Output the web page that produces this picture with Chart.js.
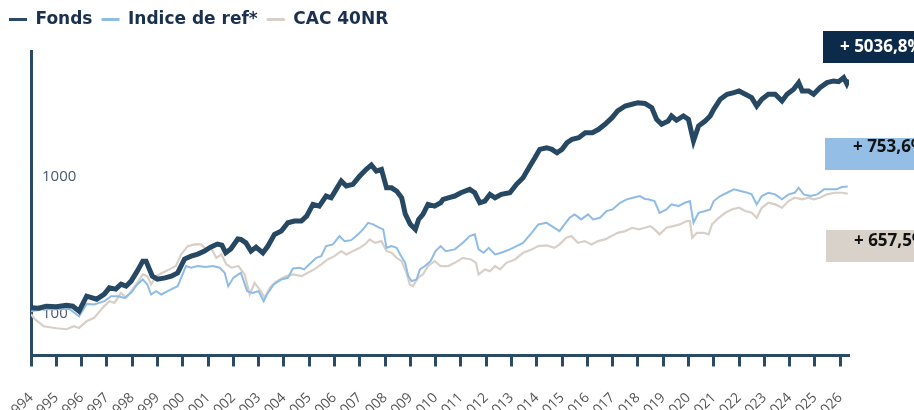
<!DOCTYPE html>
<html>
<head>
<meta charset="utf-8">
<script src="https://cdn.jsdelivr.net/npm/chart.js@4.4.1/dist/chart.umd.min.js"></script>
<style>
  html, body { margin: 0; padding: 0; background: #fff; overflow: hidden; }
  #wrap { width: 914px; height: 410px; }
</style>
</head>
<body>
<div id="wrap"><canvas id="perf" width="914" height="410"></canvas></div>
<script>
// colours
const navy = "#264862";
const axisColor = "#2b4a66";
const lightBlue = "#8fbce6";
const beige = "#d8d0c8";

// series labels
const seriesNames = ["Fonds", "Indice de ref*", "CAC 40NR"];
const endLabels = ["+ 5036,8%", "+ 753,6%", "+ 657,5%"];
const yTickLabels = [100, 1000];

// ! Fonds (base ~100, log scale)
const fondsDates = [
  1994.0, 1994.3, 1994.6, 1995.0, 1995.4, 1995.65, 1995.9, 1996.2, 1996.6, 1996.9,
  1997.1, 1997.35, 1997.56, 1997.76, 1997.96, 1998.2, 1998.42, 1998.55, 1998.8, 1999.0,
  1999.3, 1999.55, 1999.8, 2000.07, 2000.33, 2000.6, 2000.86, 2001.1, 2001.37, 2001.55,
  2001.7, 2001.9, 2002.18, 2002.3, 2002.5, 2002.7, 2002.9, 2003.17, 2003.37, 2003.63,
  2003.9, 2004.16, 2004.42, 2004.69, 2004.9, 2005.15, 2005.4, 2005.67, 2005.87, 2006.07,
  2006.27, 2006.47, 2006.73, 2007.0, 2007.26, 2007.46, 2007.66, 2007.86, 2008.06, 2008.26,
  2008.46, 2008.66, 2008.8, 2009.0, 2009.2, 2009.33, 2009.5, 2009.7, 2009.96, 2010.2,
  2010.3, 2010.5, 2010.76, 2011.0, 2011.35, 2011.55, 2011.75, 2011.95, 2012.15, 2012.35,
  2012.6, 2012.94, 2013.2, 2013.46, 2013.73, 2013.93, 2014.12, 2014.39, 2014.6, 2014.8,
  2015.0, 2015.2, 2015.4, 2015.66, 2015.92, 2016.2, 2016.45, 2016.7, 2016.98, 2017.2,
  2017.5, 2017.77, 2018.0, 2018.28, 2018.55, 2018.74, 2018.94, 2019.2, 2019.33, 2019.53,
  2019.8, 2020.0, 2020.2, 2020.4, 2020.66, 2020.86, 2021.0, 2021.26, 2021.53, 2021.8,
  2022.0, 2022.25, 2022.5, 2022.7, 2022.9, 2023.16, 2023.43, 2023.7, 2023.9, 2024.16,
  2024.36, 2024.5, 2024.75, 2024.95, 2025.2, 2025.48, 2025.74, 2025.94, 2026.14, 2026.26,
  2026.33
];
const fondsValues = [
  111.5, 110.6, 114.4, 113.4, 116.3, 114.4, 105.2, 135.3, 128.7, 140.0,
  155.6, 152.3, 165.7, 160.1, 174.2, 206.0, 243.7, 243.7, 189.4, 180.2,
  184.1, 189.4, 200.2, 252.3, 265.1, 274.4, 288.3, 308.4, 324.7, 319.2,
  280.3, 298.5, 353.2, 351, 331.4, 288.3, 308.4, 280.3, 313.7, 381.8,
  403.5, 463.8, 477.4, 477.4, 519.2, 631.8, 614.2, 726.6, 706.2, 813.4,
  935, 860, 884.5, 1017, 1138, 1223, 1106, 1138, 835, 835,
  790, 706, 538, 452, 415, 491, 534, 632, 614, 649,
  688, 706, 727, 768, 813, 768, 649, 668, 748, 706,
  748, 768, 885, 988, 1203, 1383, 1593, 1636, 1593, 1504,
  1593, 1780, 1885, 1936, 2106, 2106, 2229, 2425, 2709, 3033,
  3298, 3394, 3486, 3439, 3205, 2637, 2425, 2563, 2788, 2594,
  2788, 2637, 1832, 2357, 2563, 2788, 3121, 3692, 4015, 4124,
  4243, 4015, 3792, 3298, 3692, 4015, 4015, 3587, 4015, 4366,
  4879, 4243, 4243, 4015, 4485, 4879, 5020, 4960, 5306, 4800,
  5137
];

// ! Indice de ref*
const indiceDates = [
  1994.0, 1994.5, 1995.0, 1995.5, 1995.9, 1996.2, 1996.5, 1996.9, 1997.17, 1997.43,
  1997.7, 1997.96, 1998.2, 1998.42, 1998.6, 1998.75, 1998.95, 1999.15, 1999.4, 1999.8,
  2000.13, 2000.33, 2000.6, 2000.9, 2001.2, 2001.46, 2001.66, 2001.8, 2002.0, 2002.2,
  2002.3, 2002.55, 2002.75, 2003.0, 2003.2, 2003.33, 2003.6, 2003.9, 2004.16, 2004.36,
  2004.63, 2004.8, 2005.0, 2005.28, 2005.48, 2005.67, 2005.94, 2006.2, 2006.4, 2006.66,
  2006.93, 2007.13, 2007.33, 2007.53, 2007.73, 2007.93, 2008.06, 2008.26, 2008.46, 2008.6,
  2008.8, 2008.92, 2009.05, 2009.25, 2009.38, 2009.58, 2009.8, 2010.0, 2010.2, 2010.4,
  2010.76, 2011.08, 2011.35, 2011.55, 2011.7, 2011.9, 2012.1, 2012.35, 2012.6, 2012.94,
  2013.2, 2013.46, 2013.8, 2014.06, 2014.39, 2014.7, 2014.9, 2015.1, 2015.3, 2015.5,
  2015.76, 2016.03, 2016.23, 2016.5, 2016.76, 2017.0, 2017.3, 2017.56, 2017.8, 2018.08,
  2018.28, 2018.4, 2018.66, 2018.86, 2019.13, 2019.33, 2019.6, 2019.86, 2020.06, 2020.2,
  2020.4, 2020.66, 2020.86, 2021.0, 2021.26, 2021.53, 2021.8, 2022.06, 2022.33, 2022.5,
  2022.7, 2022.9, 2023.16, 2023.43, 2023.7, 2023.96, 2024.2, 2024.36, 2024.56, 2024.82,
  2025.1, 2025.36, 2025.6, 2025.86, 2026.06, 2026.3
];
const indiceValues = [
  105.2, 108.8, 108.8, 109.7, 96.7, 118.9, 117.7, 124.4, 135.3, 135.3,
  131.5, 143.0, 164.6, 179.3, 164.6, 139.2, 147.2, 139.2, 147.2, 160.1,
  224.5, 218.3, 224.5, 220.8, 224.5, 218.3, 200.2, 160.1, 184.1, 194.9,
  200.2, 147.2, 143.0, 147.2, 124.4, 139.2, 164.6, 179.3, 184.1, 215.7,
  218.3, 212.2, 230.5, 257.6, 265.1, 313.7, 322.7, 371.0, 341.0, 346.5,
  381.8, 415.2, 463.8, 451.6, 431.5, 415.2, 304.8, 313.7, 304.8, 272.8,
  236.9, 189.4, 174.2, 179.3, 212.2, 224.5, 243.7, 288.3, 313.7, 288.3,
  296.8, 331.4, 371.0, 381.8, 296.8, 280.3, 304.8, 272.8, 280.3, 296.8,
  313.7, 331.4, 392.1, 451.6, 463.8, 426.5, 403.5, 451.6, 504.6, 534.1,
  491.2, 534.1, 491.2, 504.6, 564.9, 581.1, 649.4, 687.6, 706.2, 726.6,
  692.3, 687.6, 668.2, 548.9, 581.1, 631.8, 614.2, 649.4, 668.2, 463.8,
  548.9, 564.9, 581.1, 668.2, 726.6, 768.1, 813.4, 790, 768.1, 747.6,
  631.8, 726.6, 768.1, 747.6, 687.6, 747.6, 768.1, 835.4, 747.6, 726.6,
  747.6, 813.4, 813.4, 813.4, 845.5, 853.6
];

// ! CAC 40NR
const cacDates = [
  1994.0, 1994.15, 1994.5, 1995.0, 1995.4, 1995.7, 1995.9, 1996.2, 1996.5, 1996.83,
  1997.1, 1997.3, 1997.56, 1997.76, 1997.96, 1998.2, 1998.42, 1998.6, 1998.75, 1998.95,
  1999.2, 1999.47, 1999.73, 1999.94, 2000.2, 2000.46, 2000.73, 2000.93, 2001.13, 2001.33,
  2001.53, 2001.73, 2001.93, 2002.2, 2002.45, 2002.65, 2002.84, 2003.04, 2003.24, 2003.44,
  2003.63, 2003.83, 2004.1, 2004.36, 2004.7, 2004.95, 2005.2, 2005.48, 2005.73, 2006.0,
  2006.27, 2006.47, 2006.73, 2007.0, 2007.2, 2007.4, 2007.6, 2007.86, 2008.06, 2008.26,
  2008.46, 2008.66, 2008.85, 2008.98, 2009.11, 2009.3, 2009.5, 2009.7, 2009.96, 2010.2,
  2010.5, 2010.76, 2011.08, 2011.4, 2011.6, 2011.7, 2011.95, 2012.15, 2012.35, 2012.55,
  2012.8, 2013.14, 2013.46, 2013.8, 2014.06, 2014.39, 2014.7, 2014.9, 2015.17, 2015.37,
  2015.63, 2015.9, 2016.16, 2016.43, 2016.7, 2016.96, 2017.2, 2017.5, 2017.77, 2018.04,
  2018.28, 2018.5, 2018.66, 2018.86, 2019.13, 2019.4, 2019.66, 2019.93, 2020.06, 2020.15,
  2020.33, 2020.6, 2020.8, 2020.93, 2021.2, 2021.46, 2021.73, 2022.0, 2022.25, 2022.5,
  2022.7, 2022.9, 2023.16, 2023.43, 2023.7, 2023.96, 2024.2, 2024.5, 2024.75, 2024.95,
  2025.2, 2025.48, 2025.8, 2026.06, 2026.3
];
const cacValues = [
  100, 91.9, 81.7, 79.0, 77.7, 81.7, 79.4, 88.9, 94.0, 111.2,
  124.4, 120.9, 143.0, 131.5, 147.2, 169.2, 194.9, 189.4, 164.6, 189.4,
  200.2, 212.2, 224.5, 272.8, 313.7, 322.7, 322.7, 296.8, 301.7, 257.6,
  272.8, 230.5, 218.3, 224.5, 194.9, 139.2, 169.2, 151.5, 131.5, 155.6,
  169.2, 179.3, 189.4, 194.9, 189.4, 200.2, 212.2, 230.5, 250.8, 265.1,
  288.3, 272.8, 288.3, 304.8, 322.7, 351, 331.4, 341.0, 288.3, 280.3,
  257.6, 243.7, 200.2, 164.6, 160.1, 184.1, 194.9, 224.5, 243.7, 224.5,
  224.5, 236.9, 257.6, 250.8, 236.9, 194.9, 212.2, 206.0, 224.5, 212.2,
  236.9, 250.8, 280.3, 296.8, 313.7, 317.3, 304.8, 322.7, 360.5, 371.0,
  331.4, 341.0, 322.7, 341.0, 351, 371.0, 392.1, 403.5, 426.5, 415.2,
  426.5, 438.8, 415.2, 381.8, 426.5, 438.8, 451.6, 477.4, 477.4, 360.5,
  392.1, 392.1, 381.8, 451.6, 504.6, 548.9, 581.1, 597, 564.9, 548.9,
  504.6, 597, 649.4, 631.8, 597, 668.2, 706.2, 687.6, 706.2, 687.6,
  706.2, 747.6, 768.1, 768.1, 757.5
];

function toPoints(dates, values) {
  return dates.map((d, i) => ({ x: d, y: values[i] }));
}

// leave a gap under the legend
const legendGap = {
  id: "legendGap",
  afterInit(chart) {
    const legend = chart.legend;
    const fit = legend.fit;
    legend.fit = function () {
      fit.call(this);
      this.height += 13;
    };
  },
};

// end-of-period boxes on the right
const endBoxes = {
  id: "endBoxes",
  afterDraw(chart) {
    const ctx = chart.ctx;
    const right = chart.chartArea.right;
    const boxes = [
      { top: 31, textY: 47, fill: "#0c2a4a", color: "#ffffff", dx: -26, tx: -9 },
      { top: 138, textY: 147, fill: "#94bee6", color: "#111111", dx: -24, tx: 4 },
      { top: 230, textY: 241, fill: "#d9d2ca", color: "#111111", dx: -23, tx: 5 },
    ];
    ctx.save();
    ctx.font = "bold 17px 'Open Sans'";
    ctx.textBaseline = "middle";
    ctx.textAlign = "left";
    boxes.forEach((b, i) => {
      ctx.fillStyle = b.fill;
      ctx.fillRect(right + b.dx, b.top, 120, 32);
      ctx.fillStyle = b.color;
      ctx.fillText(endLabels[i], right + b.tx, b.textY);
    });
    ctx.restore();
  },
};

let perfChart = document.querySelector("#perf");
new Chart(perfChart, {
  type: "line",
  plugins: [legendGap, endBoxes],
  options: {
    responsive: false,
    animation: false,
    layout: {
      padding: { top: 2, right: 65, bottom: -37, left: 0 },
    },
    plugins: {
      legend: {
        position: "top",
        align: "start",
        labels: {
          font: { family: "DejaVu Sans", size: 17, weight: "bold" },
          color: "#1a3050",
          boxWidth: 18,
          boxHeight: 3,
          padding: 9,
          generateLabels(chart) {
            return chart.data.datasets.map((ds, i) => ({
              text: ds.label,
              fillStyle: ds.legendColor,
              strokeStyle: ds.legendColor,
              lineWidth: 0,
              fontColor: "#1a3050",
              datasetIndex: i,
            }));
          },
        },
      },
      tooltip: { enabled: false },
    },
    scales: {
      x: {
        type: "linear",
        min: 1994,
        max: 2026.35,
        afterFit(scale) {
          scale.paddingLeft = 0;
          scale.paddingRight = 0;
        },
        grid: {
          display: true,
          drawOnChartArea: false,
          drawTicks: true,
          tickLength: 11,
          tickColor: axisColor,
          tickWidth: 3,
        },
        border: { display: true, color: axisColor, width: 3 },
        ticks: {
          stepSize: 1,
          includeBounds: false,
          autoSkip: false,
          maxRotation: 45,
          minRotation: 45,
          padding: 23,
          color: "#555555",
          font: { family: "Open Sans", size: 14 },
          callback: (v) => String(v),
        },
      },
      y: {
        type: "logarithmic",
        min: 50,
        max: 8300,
        afterFit(scale) {
          scale.width = 31;
        },
        grid: { display: false },
        border: { display: true, color: axisColor, width: 3 },
        ticks: {
          mirror: true,
          padding: 11,
          autoSkip: false,
          color: "#4a5a6e",
          font: { family: "Open Sans", size: 15 },
          callback: (v) => (yTickLabels.includes(v) ? String(v) : ""),
        },
      },
    },
  },
  data: {
    datasets: [
      {
        label: seriesNames[0],
        data: toPoints(fondsDates, fondsValues),
        borderColor: navy,
        legendColor: axisColor,
        borderWidth: 5,
        pointRadius: 0,
        tension: 0,
      },
      {
        label: seriesNames[1],
        data: toPoints(indiceDates, indiceValues),
        borderColor: lightBlue,
        legendColor: lightBlue,
        borderWidth: 2,
        pointRadius: 0,
        tension: 0,
      },
      {
        label: seriesNames[2],
        data: toPoints(cacDates, cacValues),
        borderColor: beige,
        legendColor: beige,
        borderWidth: 2.2,
        pointRadius: 0,
        tension: 0,
      },
    ],
  },
});
</script>
</body>
</html>
